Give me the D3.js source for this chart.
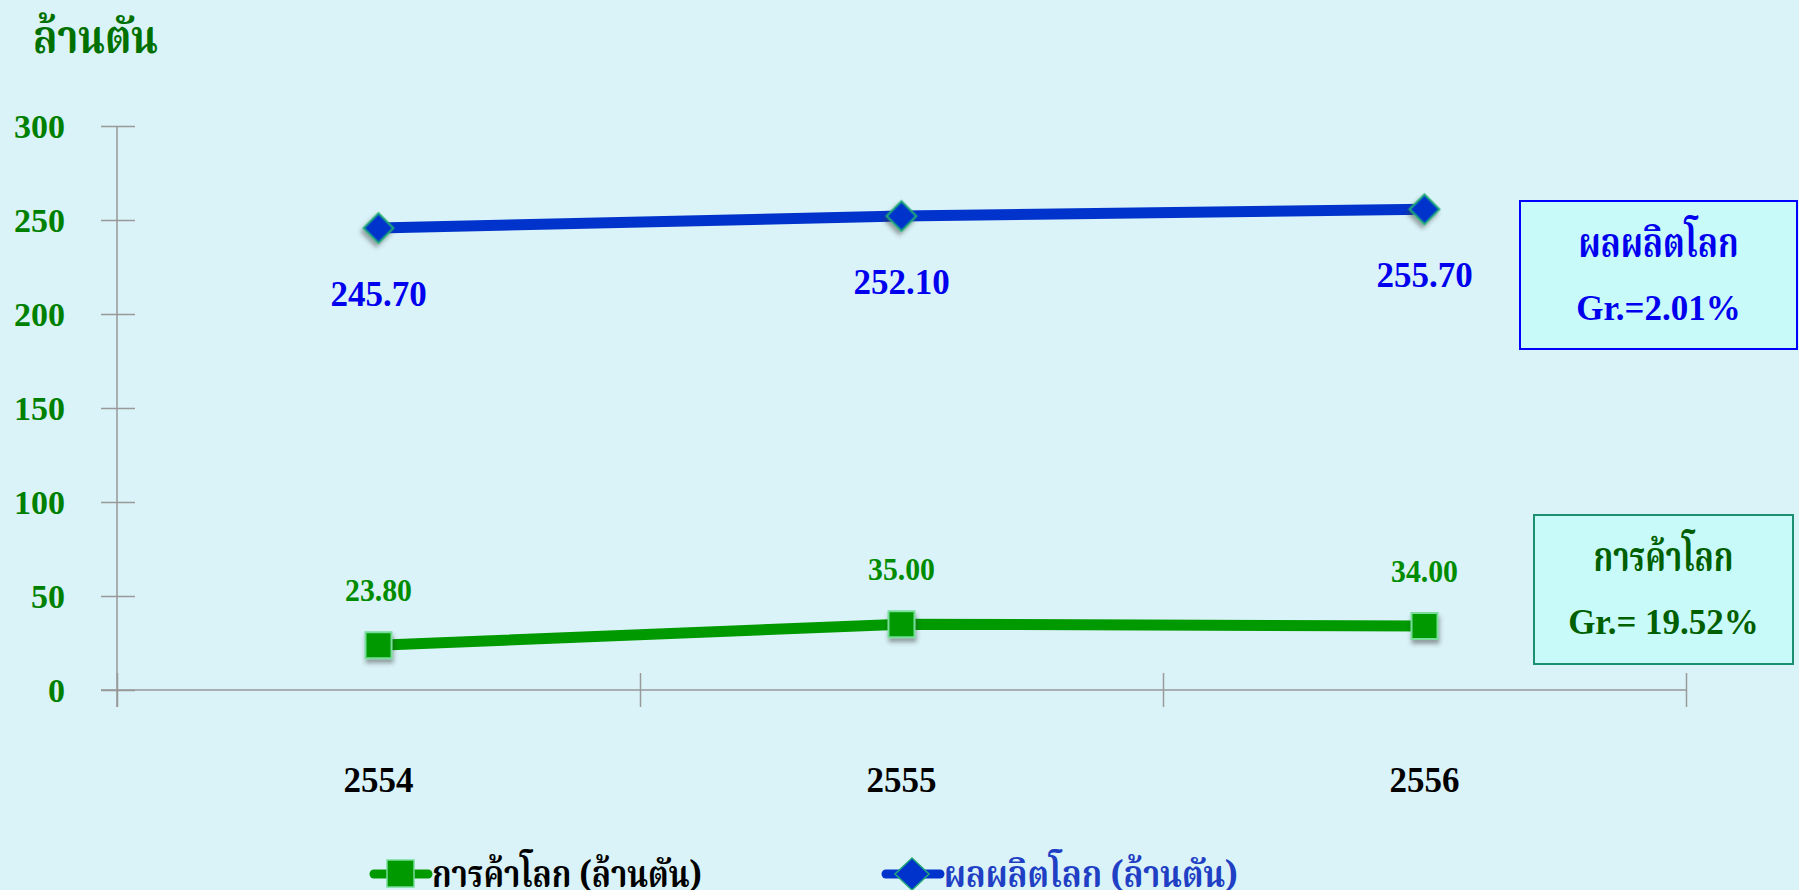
<!DOCTYPE html>
<html>
<head>
<meta charset="utf-8">
<script src="https://cdn.jsdelivr.net/npm/d3@7"></script>
<style>
  body { margin: 0; background: #daf3f8; overflow: hidden; }
  svg { display: block; }
  .num { font-family: "Liberation Serif", "Times New Roman", serif; font-weight: bold; }
  .thai { font-family: "Noto Serif Thai", "Noto Sans Thai", "Tlwg Typo", "Garuda", "Loma", "Norasi", "DejaVu Serif", serif; font-weight: bold; }
</style>
</head>
<body>
<svg id="chart"></svg>
<script>
// data
var years = ["2554", "2555", "2556"];
var production = [245.70, 252.10, 255.70];   // ผลผลิตโลก
var trade = [23.80, 35.00, 34.00];            // การค้าโลก
var yTicks = [0, 50, 100, 150, 200, 250, 300];
var unitLabel = "ล้านตัน";
var tradeName = "การค้าโลก";
var prodName = "ผลผลิตโลก";
var tradeLegend = "การค้าโลก (ล้านตัน)";
var prodLegend = "ผลผลิตโลก (ล้านตัน)";
var tradeGrowth = "Gr.= 19.52%";
var prodGrowth = "Gr.=2.01%";

var W = 1799, H = 890;
var svg = d3.select("#chart").attr("width", W).attr("height", H);

// drop shadow for the markers
var defs = svg.append("defs");
var f = defs.append("filter").attr("id", "shadow")
    .attr("x", "-50%").attr("y", "-50%").attr("width", "200%").attr("height", "200%");
f.append("feDropShadow").attr("dx", 1).attr("dy", 4).attr("stdDeviation", 2)
    .attr("flood-color", "#333").attr("flood-opacity", 0.45);

// plot area (note: "top" is a reserved window global, so prefixed names)
var pLeft = 117, pRight = 1686, pTop = 126, pBottom = 690;

var yScale = d3.scaleLinear().domain([0, 300]).range([pBottom, pTop]);
var xBand = d3.scaleBand().domain(years).range([pLeft, pRight]);
var xEdge = d3.scaleLinear().domain([0, years.length]).range([pLeft, pRight]);
var xc = function (d) { return xBand(d) + xBand.bandwidth() / 2; };

// title
svg.append("text").attr("class", "thai")
    .attr("x", 33).attr("y", 53)
    .attr("textLength", 125).attr("lengthAdjust", "spacingAndGlyphs")
    .style("font-size", "47px").style("fill", "#007000")
    .text(unitLabel);

// y axis, ticks cross the line
var yAxis = svg.append("g")
    .attr("transform", "translate(" + pLeft + ",0)")
    .call(d3.axisLeft(yScale).tickValues(yTicks).tickSize(16).tickPadding(0).tickSizeOuter(0));
yAxis.select(".domain").remove();
yAxis.selectAll(".tick line").attr("x2", -16).attr("x1", 18).attr("stroke", "#999").attr("stroke-width", 1.5);
yAxis.selectAll(".tick text").attr("class", "num")
    .attr("x", 65 - pLeft).attr("dy", "0.33em")
    .style("font-size", "34px").style("fill", "#008000");
svg.append("line").attr("x1", pLeft).attr("x2", pLeft)
    .attr("y1", pTop).attr("y2", pBottom + 17)
    .attr("stroke", "#999").attr("stroke-width", 1.5);

// x axis with ticks at the band edges
var xAxis = svg.append("g")
    .attr("transform", "translate(0," + pBottom + ")")
    .call(d3.axisBottom(xEdge).tickValues(d3.range(years.length + 1)).tickSize(17).tickFormat("").tickSizeOuter(0));
xAxis.select(".domain").remove();
xAxis.selectAll(".tick line").attr("y1", -17).attr("stroke", "#999").attr("stroke-width", 1.5);
svg.append("line").attr("x1", 101).attr("x2", pRight)
    .attr("y1", pBottom).attr("y2", pBottom)
    .attr("stroke", "#999").attr("stroke-width", 1.5);

var xLab = svg.append("g")
    .attr("transform", "translate(0," + pBottom + ")")
    .call(d3.axisBottom(xBand).tickSize(0).tickPadding(0));
xLab.select(".domain").remove();
xLab.selectAll(".tick text").attr("class", "num")
    .attr("y", 102).attr("dy", 0)
    .style("font-size", "35px").style("fill", "#000");

var line = d3.line()
    .x(function (d) { return xc(d.year); })
    .y(function (d) { return yScale(d.v); });

var prodData = years.map(function (y, i) { return { year: y, v: production[i] }; });
var tradeData = years.map(function (y, i) { return { year: y, v: trade[i] }; });

// production series
svg.append("path").datum(prodData)
    .attr("d", line).attr("fill", "none")
    .attr("stroke", "#0033cc").attr("stroke-width", 11);
svg.selectAll(".diamond").data(prodData).enter().append("rect")
    .attr("class", "diamond")
    .attr("x", -10.5).attr("y", -10.5).attr("width", 21).attr("height", 21)
    .attr("transform", function (d) { return "translate(" + xc(d.year) + "," + yScale(d.v) + ") rotate(45)"; })
    .attr("fill", "#0033cc").attr("stroke", "#22aa77").attr("stroke-width", 2)
    .attr("filter", "url(#shadow)");
svg.selectAll(".plab").data(prodData).enter().append("text")
    .attr("class", "num")
    .attr("x", function (d) { return xc(d.year); })
    .attr("y", function (d) { return yScale(d.v) + 78; })
    .attr("text-anchor", "middle")
    .style("font-size", "35px").style("fill", "#0000ee")
    .text(function (d) { return d.v.toFixed(2); });

// trade series
svg.append("path").datum(tradeData)
    .attr("d", line).attr("fill", "none")
    .attr("stroke", "#009900").attr("stroke-width", 11);
svg.selectAll(".sq").data(tradeData).enter().append("path")
    .attr("class", "sq")
    .attr("d", d3.symbol(d3.symbolSquare, 26 * 26))
    .attr("transform", function (d) { return "translate(" + xc(d.year) + "," + yScale(d.v) + ")"; })
    .attr("fill", "#009900").attr("stroke", "#77dd99").attr("stroke-width", 2)
    .attr("filter", "url(#shadow)");
svg.selectAll(".tlab").data(tradeData).enter().append("text")
    .attr("class", "num")
    .attr("x", function (d) { return xc(d.year); })
    .attr("y", function (d) { return yScale(d.v) - 44; })
    .attr("text-anchor", "middle")
    .attr("textLength", 67).attr("lengthAdjust", "spacingAndGlyphs")
    .style("font-size", "32px").style("fill", "#008c00")
    .text(function (d) { return d.v.toFixed(2); });

// growth boxes
function growthBox(x, y, w, h, stroke, color, title, titleW, gr) {
    svg.append("rect").attr("x", x).attr("y", y).attr("width", w).attr("height", h)
        .attr("fill", "#c9fafa").attr("stroke", stroke).attr("stroke-width", 2);
    svg.append("text").attr("class", "thai")
        .attr("x", x + w / 2).attr("y", y + 56).attr("text-anchor", "middle")
        .attr("textLength", titleW).attr("lengthAdjust", "spacingAndGlyphs")
        .style("font-size", "41px").style("fill", color).text(title);
    svg.append("text").attr("class", "num")
        .attr("x", x + w / 2).attr("y", y + 119).attr("text-anchor", "middle")
        .style("font-size", "35px").style("fill", color).text(gr);
}
growthBox(1520, 201, 277, 148, "#0000ff", "#0000ee", prodName, 160, prodGrowth);
growthBox(1534, 515, 259, 149, "#1a9070", "#005f00", tradeName, 140, tradeGrowth);

// legend
var legend = [
    { name: tradeLegend, x: 370, color: "#009900", text: "#000", w: 270, shape: "sq" },
    { name: prodLegend, x: 882, color: "#0033cc", text: "#1f3fc4", w: 294, shape: "dia" }
];
var lg = svg.selectAll(".lg").data(legend).enter().append("g")
    .attr("transform", function (d) { return "translate(" + d.x + ",874)"; });
lg.append("line").attr("x1", 4).attr("x2", 58).attr("y1", 0).attr("y2", 0)
    .attr("stroke", function (d) { return d.color; })
    .attr("stroke-width", 9).attr("stroke-linecap", "round");
lg.each(function (d) {
    var g = d3.select(this);
    if (d.shape == "sq") {
        g.append("rect").attr("x", 17).attr("y", -14).attr("width", 27).attr("height", 27)
            .attr("fill", d.color).attr("stroke", "#77dd99").attr("stroke-width", 1.5);
    } else {
        g.append("path").attr("d", "M13,0 L30,-16 L47,0 L30,16 Z")
            .attr("fill", d.color).attr("stroke", "#22aa77").attr("stroke-width", 1.5);
    }
});
lg.append("text").attr("class", "thai")
    .attr("x", 62).attr("y", 13)
    .attr("textLength", function (d) { return d.w; }).attr("lengthAdjust", "spacingAndGlyphs")
    .style("font-size", "37px").style("fill", function (d) { return d.text; })
    .text(function (d) { return d.name; });
</script>
</body>
</html>
